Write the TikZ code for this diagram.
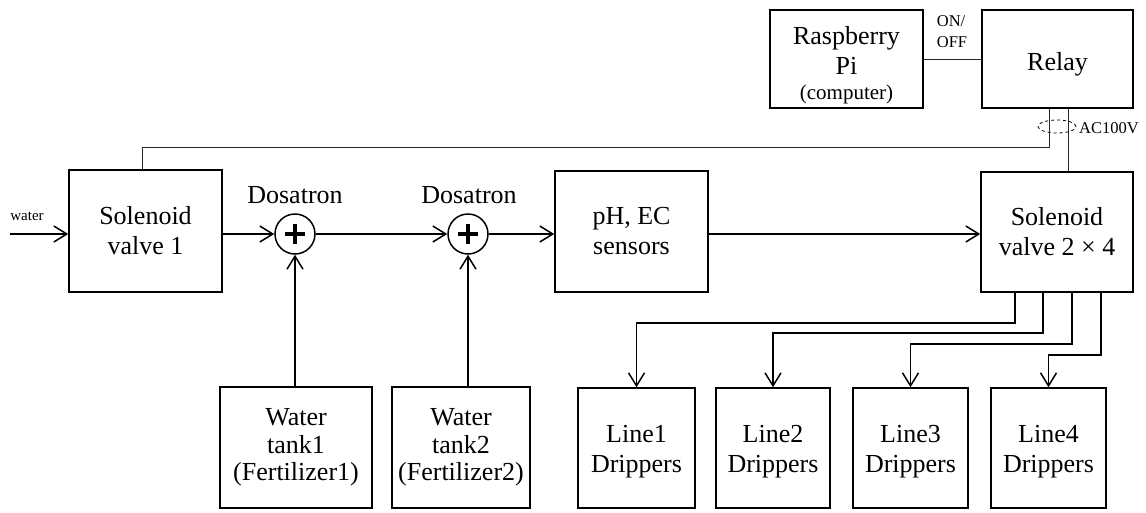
\documentclass[tikz,border=0pt]{standalone}
\usepackage{fontspec}
\newfontfamily\tnr{Liberation Serif}
\usetikzlibrary{arrows.meta,shapes.geometric}
\begin{document}
\begin{tikzpicture}[x=1pt,y=-1pt,
  box/.style={draw,line width=1.5pt,inner sep=0pt,align=center,font=\tnr\fontsize{26}{30}\selectfont},
  flow/.style={line width=1.5pt,-{Straight Barb[length=13pt,width=16pt,line width=1.5pt]}},
  sig/.style={line width=1pt,black!85},
  summer/.style={circle,draw,line width=1.5pt,minimum size=40pt,inner sep=0pt},
  plusbar/.style={line width=3.5pt},
  lbl/.style={inner sep=0pt,align=center,font=\tnr\fontsize{26}{30}\selectfont},
  small/.style={inner sep=0pt,align=left,font=\tnr\fontsize{16.5}{21}\selectfont}]
\useasboundingbox (0,0) rectangle (1146,512);
% boxes
\node[box,minimum width=153pt,minimum height=122pt] (v1) at (145.5,231) {Solenoid\\valve 1};
\node[box,minimum width=153pt,minimum height=121pt] (ph) at (631.5,231.5) {pH, EC\\sensors};
\node[box,minimum width=152pt,minimum height=120pt] (v2) at (1057,232) {Solenoid\\valve 2 × 4};
\node[box,minimum width=153pt,minimum height=98pt] (pi) at (846.5,59) {};
\node[lbl,yshift=-6pt] (pitxt) at (pi.center) {Raspberry\\Pi\\[-5pt]{\fontsize{21}{25}\selectfont (computer)}};
\node[box,minimum width=151pt,minimum height=98pt] (relay) at (1057.5,59) {};
\node[lbl,yshift=-5pt] (relaytxt) at (relay.center) {Relay};
\node[box,minimum width=152pt,minimum height=121pt,font=\tnr\fontsize{26}{27.5}\selectfont] (t1) at (296,447.5) {Water\\tank1\\(Fertilizer1)};
\node[box,minimum width=138pt,minimum height=121pt,font=\tnr\fontsize{26}{27.5}\selectfont] (t2) at (461,447.5) {Water\\tank2\\(Fertilizer2)};
\foreach \n/\x/\w in {1/636.5/117,2/773/114,3/910.5/115,4/1048.5/115}{
  \node[box,minimum width=\w pt,minimum height=120pt] (l\n) at (\x,448) {};
  \node[lbl,yshift=-4pt] (l\n txt) at (l\n.center) {Line\n\\Drippers};
}
% dosatrons
\node[summer] (c1) at (295,234) {};
\node[summer] (c2) at (468,234) {};
\foreach \c in {c1,c2}{
  \draw[plusbar] (\c.center) +(-10,0) -- +(10,0);
  \draw[plusbar] (\c.center) +(0,-10) -- +(0,10);
}
\node[lbl] (d1) at (295,195) {Dosatron};
\node[lbl] (d2) at (469,195) {Dosatron};
% water input
\coordinate (win) at (10,234);
\node[small,font=\tnr\fontsize{15}{18}\selectfont] (wl) at (27,216) {water};
\draw[flow] (win) -- (v1.west |- win);
% main flow
\draw[flow] (v1.east |- c1) -- (c1.west);
\draw[flow] (c1.east) -- (c2.west);
\draw[flow] (c2.east) -- (ph.west |- c2);
\draw[flow] (ph.east |- c1) -- (v2.west |- c1);
\draw[flow] (t1.north -| c1) -- (c1.south);
\draw[flow] (t2.north -| c2) -- (c2.south);
% branches
\coordinate (k1) at (1015,323);
\coordinate (k2) at (1043,333);
\coordinate (k3) at (1072,344);
\coordinate (k4) at (1101,355);
\draw[flow] (k1 |- v2.south) -- (k1) -| (l1.north);
\draw[flow] (k2 |- v2.south) -- (k2) -| (l2.north);
\draw[flow] (k3 |- v2.south) -- (k3) -| (l3.north);
\draw[flow] (k4 |- v2.south) -- (k4) -| (l4.north);
% control / power
\draw[sig] (pi.east) -- (relay.west);
\node[small] (onoff) at (952,32) {ON/\\OFF};
\coordinate (s1) at (142,147);
\coordinate (s2) at (1049,147);
\coordinate (s3) at (1068,147);
\draw[sig] (s1 |- v1.north) -- (s1) -- (s2) -- (s2 |- relay.south);
\draw[sig] (s3 |- relay.south) -- (s3 |- v2.north);
\node[ellipse,draw,dashed,line width=0.8pt,minimum width=38pt,minimum height=13pt,inner sep=0pt] (ell) at (1057,126.5) {};
\node[small] (ac) at (1109,128) {AC100V};
\end{tikzpicture}
\end{document}
